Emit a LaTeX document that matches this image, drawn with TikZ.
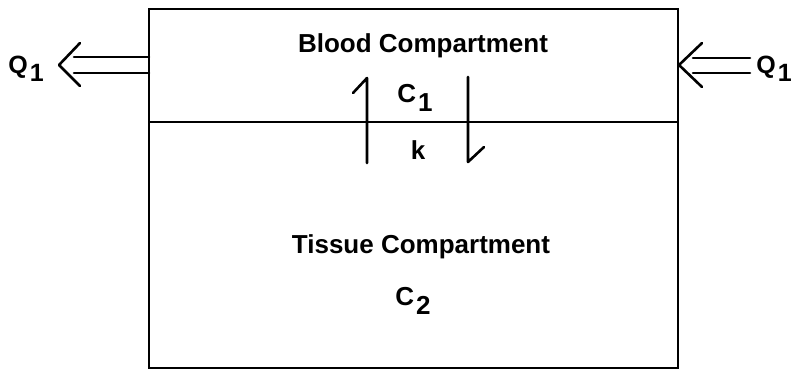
\documentclass[tikz,border=0pt]{standalone}
\usepackage{fontspec}
\setmainfont{Liberation Sans}
\begin{document}
\begin{tikzpicture}[x=1pt,y=-1pt,
  lbl/.style={font=\bfseries\fontsize{26}{30}\selectfont, inner sep=0pt},
  qlbl/.style={font=\bfseries\fontsize{25}{28}\selectfont, inner sep=0pt},
  boxline/.style={line width=2.2pt},
  flow/.style={line width=2.6pt, line cap=round, line join=round}]
\useasboundingbox (0,0) rectangle (793,369);
% compartments
\coordinate (tl) at (149,9);
\coordinate (br) at (678,368);
\draw[boxline] (tl) rectangle (br);
\coordinate (dl) at (149,122);
\coordinate (dr) at (678,122);
\draw[line width=1.8pt] (dl) -- (dr);
% labels
\node[lbl] (blood) at (423,46) {Blood Compartment};
\node[lbl] (c1) at (415,98) {C\kern2pt\raisebox{-0.6ex}{1}};
\node[lbl] (k) at (418,150) {k};
\node[lbl] (tissue) at (421,247) {Tissue Compartment};
\node[lbl] (c2) at (413,301) {C\kern2pt\raisebox{-0.6ex}{2}};
\node[qlbl] (qL) at (26,69) {Q\kern2pt\raisebox{-0.6ex}{1}};
\node[qlbl] (qR) at (774,69) {Q\kern2pt\raisebox{-0.6ex}{1}};
% left outflow double arrow
\coordinate (la1) at (149,57);
\coordinate (la2) at (149,73);
\coordinate (ltip) at (59,65);
\draw[flow] (la1) -- (74,57);
\draw[flow] (la2) -- (74,73);
\draw[flow] (80,43) -- (ltip) -- (80,86);
% right inflow double arrow
\coordinate (ra1) at (750,58);
\coordinate (ra2) at (750,73);
\coordinate (rtip) at (679,65);
\draw[flow] (ra1) -- (693,58);
\draw[flow] (ra2) -- (693,73);
\draw[flow] (702,43) -- (rtip) -- (702,87);
% exchange harpoons
\coordinate (up0) at (367,163);
\coordinate (up1) at (367,78);
\draw[flow] (up0) -- (up1) -- (353,93);
\coordinate (dn0) at (468,77);
\coordinate (dn1) at (468,162);
\draw[flow] (dn0) -- (dn1) -- (484,147);
\end{tikzpicture}
\end{document}
